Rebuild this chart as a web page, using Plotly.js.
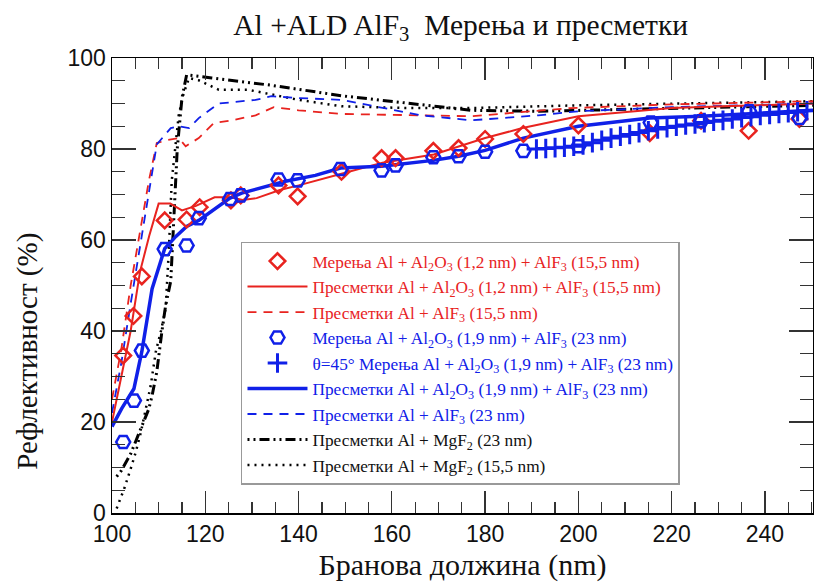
<!DOCTYPE html>
<html>
<head>
<meta charset="utf-8">
<script src="https://cdn.plot.ly/plotly-3.0.1.min.js"></script>
<style>html,body{margin:0;padding:0;background:#fff;}#chart{width:814px;height:582px;}</style>
</head>
<body>
<div id="chart"></div>
<script>
// Measured: Al + Al2O3 (1,2 nm) + AlF3 (15,5 nm)
const measRedX = [102.4, 104.6, 106.4, 111.3, 116.0, 118.8, 125.5, 127.6, 135.7, 139.8, 149.2, 157.8, 160.8, 168.9, 174.3, 180.0, 188.2, 200.0, 215.3, 226.3, 236.5, 247.4];
const measRedY = [34.6, 43.3, 52.0, 64.3, 64.5, 67.2, 68.7, 69.8, 72.0, 69.6, 75.0, 78.0, 78.0, 79.6, 80.2, 82.2, 83.3, 85.2, 83.5, 86.2, 84.0, 86.6];
// Calculated: Al + Al2O3 (1,2 nm) + AlF3 (15,5 nm)
const calcRedX = [100, 102, 104, 106, 108, 110, 112.5, 115, 118, 122, 125.5, 128, 131, 136, 140, 149, 158, 169, 180, 188, 200, 220, 235, 250.3];
const calcRedY = [20, 30, 40, 53, 61, 68, 68, 66.5, 67.5, 69.4, 69.4, 68.8, 69.2, 71, 72, 74.5, 77, 78.8, 82.4, 84.6, 87.2, 89, 89.5, 90];
// Calculated: Al + AlF3 (15,5 nm)
const calcRedFX = [100, 102, 104, 106, 107.9, 109.6, 112, 114.3, 115.8, 118.6, 121.8, 125.7, 130.8, 134.7, 140, 149.2, 162.9, 177, 198.4, 220, 250.3];
const calcRedFY = [25, 36, 50, 62, 73, 81.3, 82, 82.4, 80.6, 82.4, 85.7, 86.3, 87.4, 89.2, 88.5, 87.7, 87.4, 87.2, 89, 89.8, 90.5];
// Measured: Al + Al2O3 (1,9 nm) + AlF3 (23 nm)
const measBlueX = [102.4, 104.7, 106.4, 111.3, 116.0, 118.6, 125.3, 127.6, 135.7, 139.8, 149.0, 157.8, 160.8, 168.9, 174.3, 180.0, 188.2, 200.0, 215.5, 226.3, 236.6, 247.4];
const measBlueY = [15.6, 24.7, 35.7, 58.0, 58.8, 64.8, 69.0, 69.8, 73.3, 73.1, 75.6, 75.3, 76.4, 78.2, 78.4, 79.4, 79.6, 80.6, 85.8, 86.1, 88.3, 86.8];
// Measured at 45 degrees
const meas45X = [191, 193, 195, 197, 199, 201, 203, 205, 207, 209, 211, 213, 215, 217, 219, 221, 223, 225, 227, 229, 231, 233, 235, 237, 239, 241, 243, 245, 247, 249];
const meas45Y = [80.0, 80.1, 80.3, 80.4, 80.6, 80.9, 81.4, 81.9, 82.4, 82.8, 83.2, 83.6, 84.0, 84.4, 84.7, 85.0, 85.3, 85.5, 85.8, 86.1, 86.3, 86.6, 86.9, 87.1, 87.4, 87.6, 87.8, 88.0, 88.2, 88.4];
// Calculated: Al + Al2O3 (1,9 nm) + AlF3 (23 nm)
const calcBlueX = [100, 102.1, 104.7, 106.4, 108.6, 111.3, 113.7, 116, 118.6, 122.2, 125.3, 127.8, 133, 137.2, 143.6, 149, 157.8, 168.9, 174.3, 180, 188.2, 200, 215.3, 226.3, 250.3];
const calcBlueY = [19, 23, 27.3, 35.5, 49.3, 58.1, 60.8, 63, 64.3, 67, 69.2, 70.3, 71.8, 72.9, 74.2, 75.8, 76.2, 77.5, 78.4, 79.7, 82.4, 85, 86.8, 87.2, 88.5];
// Calculated: Al + AlF3 (23 nm)
const calcBlueFX = [100, 102, 104, 106, 108, 109.6, 112.6, 114.3, 116.5, 118.6, 122.9, 130.8, 134.2, 140, 149.2, 166.3, 177, 191.4, 200, 220, 250.3];
const calcBlueFY = [22, 33, 46, 59, 71, 81, 84.6, 85, 84.6, 86.8, 90, 90.8, 91.6, 91.2, 90.8, 87.4, 86.3, 87.4, 88.3, 89.2, 90];
// Calculated: Al + MgF2 (23 nm)
const calcMg23X = [101, 102, 104, 106.4, 107.9, 108.6, 109.6, 110.7, 111.5, 112.6, 113.3, 114, 115, 116, 121.4, 134.2, 149.2, 162.9, 177, 191.4, 200, 220, 250.3];
const calcMg23Y = [8, 9.3, 13, 19.2, 22.9, 25.8, 31, 39.9, 45.6, 51, 65.4, 80.2, 91.2, 96.3, 95.6, 94, 91.7, 90.1, 88.5, 88.3, 88.5, 89, 89.6];
// Calculated: Al + MgF2 (15,5 nm)
const calcMg15X = [101, 102.6, 104, 105.1, 106.2, 107.3, 108.3, 109.4, 110.5, 111.5, 112.2, 112.8, 113.5, 114.3, 115.3, 116.5, 118.6, 122.9, 129.3, 140, 149.2, 163, 177, 200, 250.3];
const calcMg15Y = [1, 5.3, 9.7, 13.4, 17.8, 22.9, 28, 35.5, 40, 45, 58, 72.9, 80, 87.4, 92, 95.6, 95.1, 93, 93, 90.8, 89.4, 89, 89, 89.6, 90.5];

const xTickVals = [100, 120, 140, 160, 180, 200, 220, 240];
const yTickVals = [0, 20, 40, 60, 80, 100];

const legendNames = [
  'Мерења Al + Al<sub>2</sub>O<sub>3</sub> (1,2 nm) + AlF<sub>3</sub> (15,5 nm)',
  'Пресметки Al + Al<sub>2</sub>O<sub>3</sub> (1,2 nm) + AlF<sub>3</sub> (15,5 nm)',
  'Пресметки Al + AlF<sub>3</sub> (15,5 nm)',
  'Мерења Al + Al<sub>2</sub>O<sub>3</sub> (1,9 nm) + AlF<sub>3</sub> (23 nm)',
  'θ=45° Мерења Al + Al<sub>2</sub>O<sub>3</sub> (1,9 nm) + AlF<sub>3</sub> (23 nm)',
  'Пресметки Al + Al<sub>2</sub>O<sub>3</sub> (1,9 nm) + AlF<sub>3</sub> (23 nm)',
  'Пресметки Al + AlF<sub>3</sub> (23 nm)',
  'Пресметки Al + MgF<sub>2</sub> (23 nm)',
  'Пресметки Al + MgF<sub>2</sub> (15,5 nm)'
];

const RED = '#e8231f';
const BLUE = '#1020e8';
const BLACK = '#000000';
const SERIF = 'Liberation Serif';
const SANS = 'Liberation Sans';
function nm(i, c) { return '<span style="color:' + c + '">' + legendNames[i] + '</span>'; }

const traces = [
  {x: calcMg15X, y: calcMg15Y, mode: 'lines', name: nm(8, '#111'), legendrank: 9,
   line: {color: BLACK, width: 2.5, dash: '2px,5px'}},
  {x: calcMg23X, y: calcMg23Y, mode: 'lines', name: nm(7, '#111'), legendrank: 8,
   line: {color: BLACK, width: 3, dash: '2px,4px,2px,4px,10px,4px'}},
  {x: calcRedFX, y: calcRedFY, mode: 'lines', name: nm(2, RED), legendrank: 3,
   line: {color: RED, width: 1.8, dash: '9px,7px'}},
  {x: calcBlueFX, y: calcBlueFY, mode: 'lines', name: nm(6, BLUE), legendrank: 7,
   line: {color: BLUE, width: 1.8, dash: '9px,7px'}},
  {x: calcRedX, y: calcRedY, mode: 'lines', name: nm(1, RED), legendrank: 2,
   line: {color: RED, width: 2}},
  {x: calcBlueX, y: calcBlueY, mode: 'lines', name: nm(5, BLUE), legendrank: 6,
   line: {color: BLUE, width: 3.5}},
  {x: measRedX, y: measRedY, mode: 'markers', name: nm(0, RED), legendrank: 1,
   marker: {symbol: 'diamond-open', size: 12, color: RED, line: {width: 2.5, color: RED}}},
  {x: measBlueX, y: measBlueY, mode: 'markers', name: nm(3, BLUE), legendrank: 4,
   marker: {symbol: 'hexagon2-open', size: 14, color: BLUE, line: {width: 2.5, color: BLUE}}},
  {x: meas45X, y: meas45Y, mode: 'markers', name: nm(4, BLUE), legendrank: 5,
   marker: {symbol: 'cross-thin-open', size: 14, color: BLUE, line: {width: 3, color: BLUE}}}
];

const tickStyle = {ticks: 'inside', tickwidth: 1.3, tickcolor: '#333'};

const layout = {
  width: 814, height: 582,
  margin: {l: 112, r: 1, t: 58, b: 69},
  paper_bgcolor: '#ffffff', plot_bgcolor: '#ffffff',
  showlegend: true,
  title: {text: 'Al +ALD AlF<sub>3</sub>  Мерења и пресметки', x: 0.566, xanchor: 'center', y: 0.958, yanchor: 'middle',
          font: {family: SERIF, size: 29.5, color: '#111'}},
  xaxis: Object.assign({
    range: [100, 250.3], tickvals: xTickVals, ticklen: 22,
    minor: {dtick: 5, ticks: 'inside', ticklen: 11, tickwidth: 1.3, tickcolor: '#333'},
    showline: true, linecolor: '#000', linewidth: 1.5, mirror: 'ticks',
    showgrid: false, zeroline: false,
    tickfont: {family: SANS, size: 23, color: '#111'},
    title: {text: 'Бранова должина (nm)', standoff: 8, font: {family: SERIF, size: 30, color: '#111'}}
  }, tickStyle),
  xaxis2: Object.assign({
    overlaying: 'x', side: 'top', anchor: 'y', range: [100, 250.3], tickvals: xTickVals, ticklen: 22,
    minor: {dtick: 5, ticks: 'inside', ticklen: 11, tickwidth: 1.3, tickcolor: '#333'},
    showticklabels: false, showgrid: false, zeroline: false, showline: false
  }, tickStyle),
  yaxis: Object.assign({
    range: [0, 100], tickvals: yTickVals, ticklen: 24,
    minor: {dtick: 5, ticks: 'inside', ticklen: 13, tickwidth: 1.3, tickcolor: '#333'},
    showline: true, linecolor: '#000', linewidth: 1.5, mirror: 'ticks',
    showgrid: false, zeroline: false,
    tickfont: {family: SANS, size: 23, color: '#111'}
  }, tickStyle),
  yaxis2: Object.assign({
    overlaying: 'y', side: 'right', anchor: 'x', range: [0, 100], tickvals: yTickVals, ticklen: 24,
    minor: {dtick: 5, ticks: 'inside', ticklen: 13, tickwidth: 1.3, tickcolor: '#333'},
    showticklabels: false, showgrid: false, zeroline: false, showline: false
  }, tickStyle),
  annotations: [{
    text: 'Рефлективност (%)', textangle: -90, xref: 'paper', yref: 'paper',
    x: -0.121, y: 0.355, xanchor: 'center', yanchor: 'middle', showarrow: false,
    font: {family: SERIF, size: 29, color: '#111'}
  }],
  legend: {
    x: 0.184, y: 0.596, xanchor: 'left', yanchor: 'top',
    bgcolor: '#ffffff', bordercolor: '#999', borderwidth: 1.5,
    itemwidth: 60, tracegroupgap: 0,
    font: {family: SERIF, size: 17.3, color: '#111'}
  }
};

Plotly.newPlot('chart', traces, layout, {displayModeBar: false, staticPlot: true});
</script>
</body>
</html>
